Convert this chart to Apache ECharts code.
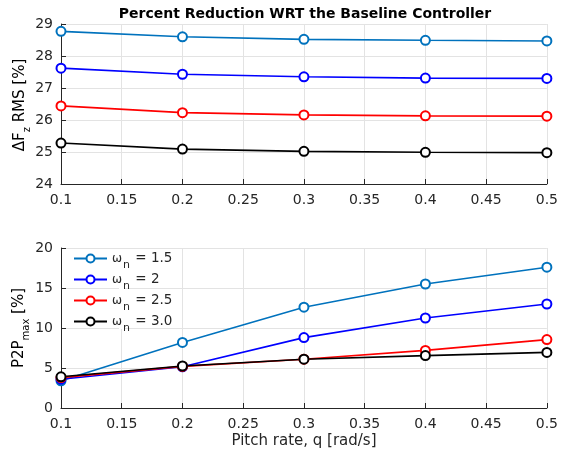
<!DOCTYPE html>
<html>
<head>
<meta charset="utf-8">
<script src="https://cdn.jsdelivr.net/npm/echarts@6/dist/echarts.min.js"></script>
<style>
  html, body { margin: 0; padding: 0; background: #fff; }
  #chart { width: 561px; height: 458px; }
</style>
</head>
<body>
<div id="chart"></div>
<script>
// Pitch-rate sweep (x values shared by both panels)
const pitchRates = [0.1, 0.2, 0.3, 0.4, 0.5];

// Natural frequency cases (legend labels)
const omegaN = ['1.5', '2', '2.5', '3.0'];
const lineColors = ['#0072BD', '#0000FF', '#FF0000', '#000000'];

// Top panel: reduction of delta-Fz RMS [%]
const rmsW15 = [28.77, 28.60, 28.52, 28.49, 28.47];
const rmsW20 = [27.62, 27.43, 27.35, 27.31, 27.30];
const rmsW25 = [26.44, 26.23, 26.16, 26.13, 26.12];
const rmsW30 = [25.28, 25.09, 25.02, 24.99, 24.98];

// Bottom panel: reduction of peak-to-peak max [%]
const p2pW15 = [3.4, 8.2, 12.6, 15.5, 17.6];
const p2pW20 = [3.6, 5.15, 8.8, 11.25, 13.0];
const p2pW25 = [3.8, 5.2, 6.1, 7.2, 8.55];
const p2pW30 = [3.9, 5.25, 6.1, 6.55, 6.95];

// Axis ticks
const xTicks = { min: 0.1, max: 0.5, step: 0.05 };
const rmsTicks = { min: 24, max: 29, step: 1 };
const p2pTicks = { min: 0, max: 20, step: 5 };

const FONT = 'DejaVu Sans';
const AX = '#262626';
const GRID = '#e3e3e3';

const rmsSets = [rmsW15, rmsW20, rmsW25, rmsW30];
const p2pSets = [p2pW15, p2pW20, p2pW25, p2pW30];

function xAxisCfg(gridIndex) {
  return {
    type: 'value', gridIndex,
    min: xTicks.min, max: xTicks.max, interval: xTicks.step,
    axisLine: { lineStyle: { color: AX, width: 1 } },
    axisTick: { inside: true, length: 5, lineStyle: { color: AX } },
    axisLabel: { margin: 9, fontFamily: FONT, fontSize: 14, color: AX },
    splitLine: { show: true, lineStyle: { color: GRID, width: 1 } }
  };
}
function yAxisCfg(gridIndex, t) {
  return {
    type: 'value', gridIndex,
    min: t.min, max: t.max, interval: t.step,
    axisLine: { show: true, lineStyle: { color: AX, width: 1 } },
    axisTick: { show: true, inside: true, length: 5, lineStyle: { color: AX } },
    axisLabel: { margin: 8, fontFamily: FONT, fontSize: 14, color: AX },
    splitLine: { show: true, lineStyle: { color: GRID, width: 1 } }
  };
}

function lineSeries(name, values, color, gridIndex) {
  return {
    name, type: 'line',
    xAxisIndex: gridIndex, yAxisIndex: gridIndex,
    data: pitchRates.map((x, i) => [x, values[i]]),
    symbol: 'emptyCircle', symbolSize: 9,
    lineStyle: { color, width: 1.6 },
    itemStyle: { color, borderColor: color, borderWidth: 1.6 },
    emphasis: { disabled: true },
    animation: false
  };
}

const series = [];
omegaN.forEach((w, k) => series.push(lineSeries('rms ' + w, rmsSets[k], lineColors[k], 0)));
omegaN.forEach((w, k) => series.push(lineSeries('ωn = ' + w, p2pSets[k], lineColors[k], 1)));

const labelRich = {
  m: { fontFamily: FONT, fontSize: 15, color: AX, lineHeight: 16 },
  s: { fontFamily: FONT, fontSize: 10, color: AX, lineHeight: 10, padding: [15, 0, 0, 0] }
};

const chart = echarts.init(document.getElementById('chart'), null, { renderer: 'canvas' });
chart.setOption({
  animation: false,
  backgroundColor: '#fff',
  grid: [
    { left: 61, top: 24, width: 487, height: 160 },
    { left: 61, top: 248, width: 487, height: 160 }
  ],
  xAxis: [xAxisCfg(0), xAxisCfg(1)],
  yAxis: [yAxisCfg(0, rmsTicks), yAxisCfg(1, p2pTicks)],
  legend: {
    data: omegaN.map(w => 'ωn = ' + w),
    orient: 'vertical',
    left: 73, top: 246,
    itemWidth: 33, itemHeight: 10, itemGap: -4,
    padding: 0,
    selectedMode: false,
    formatter: name => '{w|ω}{s|n}{t| = ' + name.split('= ')[1] + '}',
    textStyle: {
      fontFamily: FONT, fontSize: 13, color: AX,
      rich: {
        w: { fontFamily: FONT, fontSize: 12, color: AX, lineHeight: 14 },
        s: { fontFamily: FONT, fontSize: 11, color: AX, lineHeight: 10, padding: [14, 1, 0, 1] },
        t: { fontFamily: FONT, fontSize: 13.5, color: AX, lineHeight: 14 }
      }
    }
  },
  graphic: [
    // legend backdrop over the vertical grid line
    { type: 'rect', z: 1, shape: { x: 119, y: 249, width: 6, height: 80 }, style: { fill: '#fff' }, silent: true },
    { type: 'text', x: 305, y: 14, style: { text: 'Percent Reduction WRT the Baseline Controller', fontFamily: FONT, fontWeight: 'bold', fontSize: 14, fill: '#000', align: 'center', verticalAlign: 'middle' } },
    { type: 'text', x: 304, y: 441, style: { text: 'Pitch rate, q [rad/s]', fontFamily: FONT, fontSize: 15, fill: AX, align: 'center', verticalAlign: 'middle' } },
    { type: 'text', x: 20, y: 105, rotation: Math.PI / 2, style: { text: '{m|ΔF}{s|z}{m| RMS [%]}', rich: labelRich, align: 'center', verticalAlign: 'middle' } },
    { type: 'text', x: 19, y: 328, rotation: Math.PI / 2, style: { text: '{m|P2P}{s|max}{m| [%]}', rich: labelRich, align: 'center', verticalAlign: 'middle' } }
  ],
  series
});
</script>
</body>
</html>
